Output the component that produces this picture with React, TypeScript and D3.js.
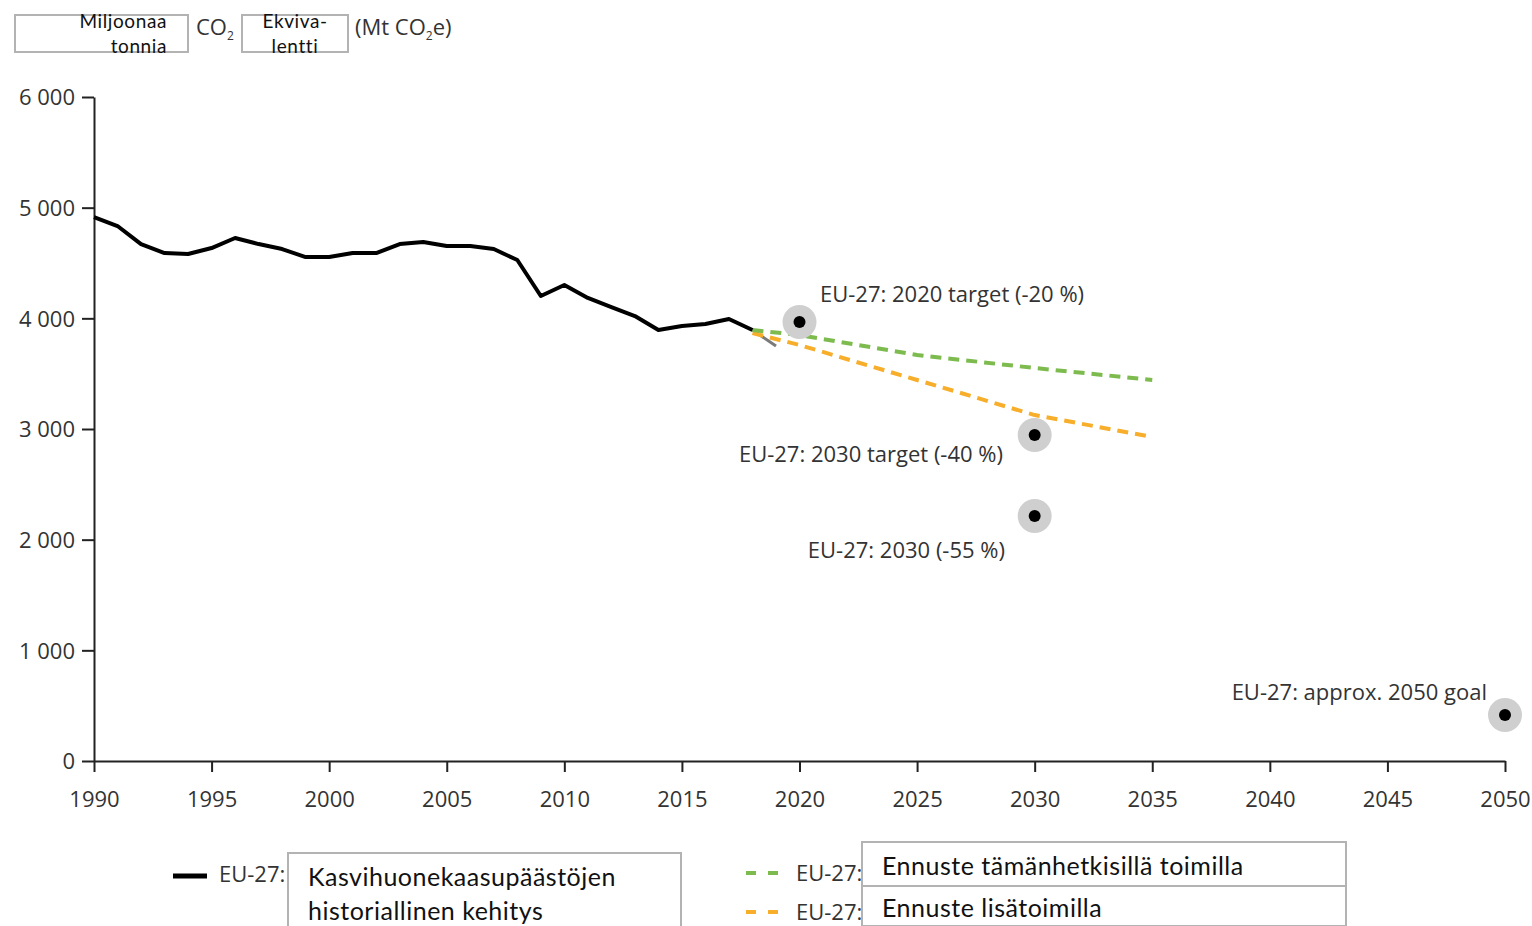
import { useRef, useEffect } from 'react';
import * as d3 from 'd3';

// historical emissions (Mt CO2e)
const histYears = [1990, 1991, 1992, 1993, 1994, 1995, 1996, 1997, 1998, 1999, 2000, 2001, 2002, 2003, 2004, 2005, 2006, 2007, 2008, 2009, 2010, 2011, 2012, 2013, 2014, 2015, 2016, 2017, 2018];
const histValues = [4915, 4834, 4671, 4590, 4581, 4635, 4726, 4671, 4626, 4554, 4554, 4590, 4590, 4671, 4690, 4653, 4653, 4626, 4527, 4202, 4301, 4184, 4102, 4021, 3895, 3931, 3949, 3994, 3895];

// proxy estimate
const proxyYears = [2018, 2019];
const proxyValues = [3895, 3750];

// projections
const projYears = [2018, 2020, 2025, 2030, 2035];
const wemValues = [3895, 3849, 3669, 3551, 3443];
const wamValues = [3867, 3759, 3443, 3126, 2928];

// targets
const targetYears = [2020, 2030, 2030, 2050];
const targetValues = [3967, 2946, 2214, 416];
const targetLabels = ['EU-27: 2020 target (-20 %)', 'EU-27: 2030 target (-40 %)', 'EU-27: 2030 (-55 %)', 'EU-27: approx. 2050 goal'];

const xTicks = [1990, 1995, 2000, 2005, 2010, 2015, 2020, 2025, 2030, 2035, 2040, 2045, 2050];
const yTicks = [0, 1000, 2000, 3000, 4000, 5000, 6000];

const GREEN = '#7dbb4f';
const ORANGE = '#f7ae2a';
const TEXT = '#333333';
const BOX = '#b3b3b3';
const FONT = '"Open Sans", sans-serif';
const BOXFONT = 'Lato, sans-serif';

export default function App() {
  const svgRef = useRef<SVGSVGElement>(null);

  useEffect(() => {
    if (!svgRef.current) return;
    const root = d3.select(svgRef.current);
    root.selectAll('*').remove();

    const x = d3.scaleLinear().domain([1990, 2050]).range([94, 1505]);
    const y = d3.scaleLinear().domain([0, 6000]).range([761, 97]);

    // header
    const header = root.append('g');
    const boxText = (sel: any, size: number) =>
      sel.style('font-family', BOXFONT).style('font-size', `${size}px`).style('letter-spacing', '0.6px').attr('fill', '#111');
    header.append('rect').attr('x', 15).attr('y', 15).attr('width', 173).attr('height', 37)
      .attr('fill', '#fff').attr('stroke', BOX).attr('stroke-width', 2);
    boxText(header.append('text').attr('x', 167).attr('y', 28).attr('text-anchor', 'end').text('Miljoonaa'), 19);
    boxText(header.append('text').attr('x', 167).attr('y', 53).attr('text-anchor', 'end').text('tonnia'), 19);
    const co2 = header.append('text').attr('x', 196).attr('y', 35)
      .style('font-family', FONT).style('font-size', '22px').attr('fill', TEXT);
    co2.append('tspan').text('CO');
    co2.append('tspan').attr('dy', 5).style('font-size', '12px').text('2');
    header.append('rect').attr('x', 242).attr('y', 15).attr('width', 106).attr('height', 37)
      .attr('fill', '#fff').attr('stroke', BOX).attr('stroke-width', 2);
    boxText(header.append('text').attr('x', 295).attr('y', 28).attr('text-anchor', 'middle').text('Ekviva-'), 19);
    boxText(header.append('text').attr('x', 295).attr('y', 53).attr('text-anchor', 'middle').text('lentti'), 19);
    const unit = header.append('text').attr('x', 355).attr('y', 35)
      .style('font-family', FONT).style('font-size', '22px').attr('fill', TEXT);
    unit.append('tspan').text('(Mt CO');
    unit.append('tspan').attr('dy', 5).style('font-size', '12px').text('2');
    unit.append('tspan').attr('dy', -5).text('e)');

    // axes
    const yAxis = root.append('g').attr('transform', 'translate(94,0)')
      .call(d3.axisLeft(y).tickValues(yTicks).tickSize(12).tickSizeOuter(0).tickPadding(7)
        .tickFormat(d => d3.format(',')(d as number).replace(',', ' ')));
    const xAxis = root.append('g').attr('transform', 'translate(0,761)')
      .call(d3.axisBottom(x).tickValues(xTicks).tickSize(11).tickSizeOuter(0).tickPadding(19)
        .tickFormat(d3.format('d')));
    [yAxis, xAxis].forEach(a => {
      a.select('.domain').attr('stroke', '#222').attr('stroke-width', 2);
      a.selectAll('.tick line').attr('stroke', '#222').attr('stroke-width', 2);
      a.selectAll('text').style('font-family', FONT).style('font-size', '22px').attr('fill', TEXT);
    });
    yAxis.selectAll('text').attr('dy', '0.35em');

    const line = d3.line<[number, number]>().x(d => x(d[0])).y(d => y(d[1]));

    // proxy
    root.append('path').datum(proxyYears.map((yr, i) => [yr, proxyValues[i]] as [number, number]))
      .attr('d', line).attr('fill', 'none').attr('stroke', '#7a7a7a').attr('stroke-width', 3);

    // projections
    root.append('path').datum(projYears.map((yr, i) => [yr, wamValues[i]] as [number, number]))
      .attr('d', line).attr('fill', 'none').attr('stroke', ORANGE).attr('stroke-width', 4)
      .attr('stroke-dasharray', '11 7');
    root.append('path').datum(projYears.map((yr, i) => [yr, wemValues[i]] as [number, number]))
      .attr('d', line).attr('fill', 'none').attr('stroke', GREEN).attr('stroke-width', 4)
      .attr('stroke-dasharray', '11 7');

    // history
    root.append('path').datum(histYears.map((yr, i) => [yr, histValues[i]] as [number, number]))
      .attr('d', line).attr('fill', 'none').attr('stroke', '#000').attr('stroke-width', 4)
      .attr('stroke-linejoin', 'round');

    // targets
    const tg = root.append('g');
    targetYears.forEach((yr, i) => {
      tg.append('circle').attr('cx', x(yr)).attr('cy', y(targetValues[i])).attr('r', 17).attr('fill', '#cfcfcf');
      tg.append('circle').attr('cx', x(yr)).attr('cy', y(targetValues[i])).attr('r', 6).attr('fill', '#000');
    });
    const labelPos = [
      { x: 820, y: 302, anchor: 'start' },
      { x: 1003, y: 462, anchor: 'end' },
      { x: 1005, y: 558, anchor: 'end' },
      { x: 1487, y: 700, anchor: 'end' },
    ];
    targetLabels.forEach((t, i) => {
      tg.append('text').attr('x', labelPos[i].x).attr('y', labelPos[i].y)
        .attr('text-anchor', labelPos[i].anchor)
        .style('font-family', FONT).style('font-size', '22px').attr('fill', TEXT).text(t);
    });

    // legend
    const lg = root.append('g');
    const legText = (sel: any) =>
      sel.style('font-family', BOXFONT).style('font-size', '25px').style('letter-spacing', '0.5px').attr('fill', '#111');
    lg.append('line').attr('x1', 173).attr('x2', 207).attr('y1', 876).attr('y2', 876)
      .attr('stroke', '#000').attr('stroke-width', 5);
    lg.append('text').attr('x', 219).attr('y', 882).style('font-family', FONT).style('font-size', '22px')
      .attr('fill', TEXT).text('EU-27:');
    lg.append('rect').attr('x', 288).attr('y', 853).attr('width', 393).attr('height', 90)
      .attr('fill', '#fff').attr('stroke', BOX).attr('stroke-width', 2);
    legText(lg.append('text').attr('x', 308).attr('y', 886).text('Kasvihuonekaasupäästöjen'));
    legText(lg.append('text').attr('x', 308).attr('y', 920).text('historiallinen kehitys'));

    const legendRows = [
      { color: GREEN, y: 873, label: 'Ennuste tämänhetkisillä toimilla' },
      { color: ORANGE, y: 912, label: 'Ennuste lisätoimilla' },
    ];
    legendRows.forEach((r, i) => {
      lg.append('line').attr('x1', 746).attr('x2', 778).attr('y1', r.y).attr('y2', r.y)
        .attr('stroke', r.color).attr('stroke-width', 4).attr('stroke-dasharray', '10 12');
      lg.append('text').attr('x', 796).attr('y', r.y + 8).style('font-family', FONT).style('font-size', '22px')
        .attr('fill', TEXT).text('EU-27:');
      lg.append('rect').attr('x', 862).attr('y', i === 0 ? 842 : 886).attr('width', 484).attr('height', i === 0 ? 44 : 40)
        .attr('fill', '#fff').attr('stroke', BOX).attr('stroke-width', 2);
      legText(lg.append('text').attr('x', 882).attr('y', i === 0 ? 875 : 917).text(r.label));
    });
  }, []);

  return (
    <svg ref={svgRef} width={1532} height={926}
      style={{ position: 'absolute', left: 0, top: 0, background: '#fff' }} />
  );
}
